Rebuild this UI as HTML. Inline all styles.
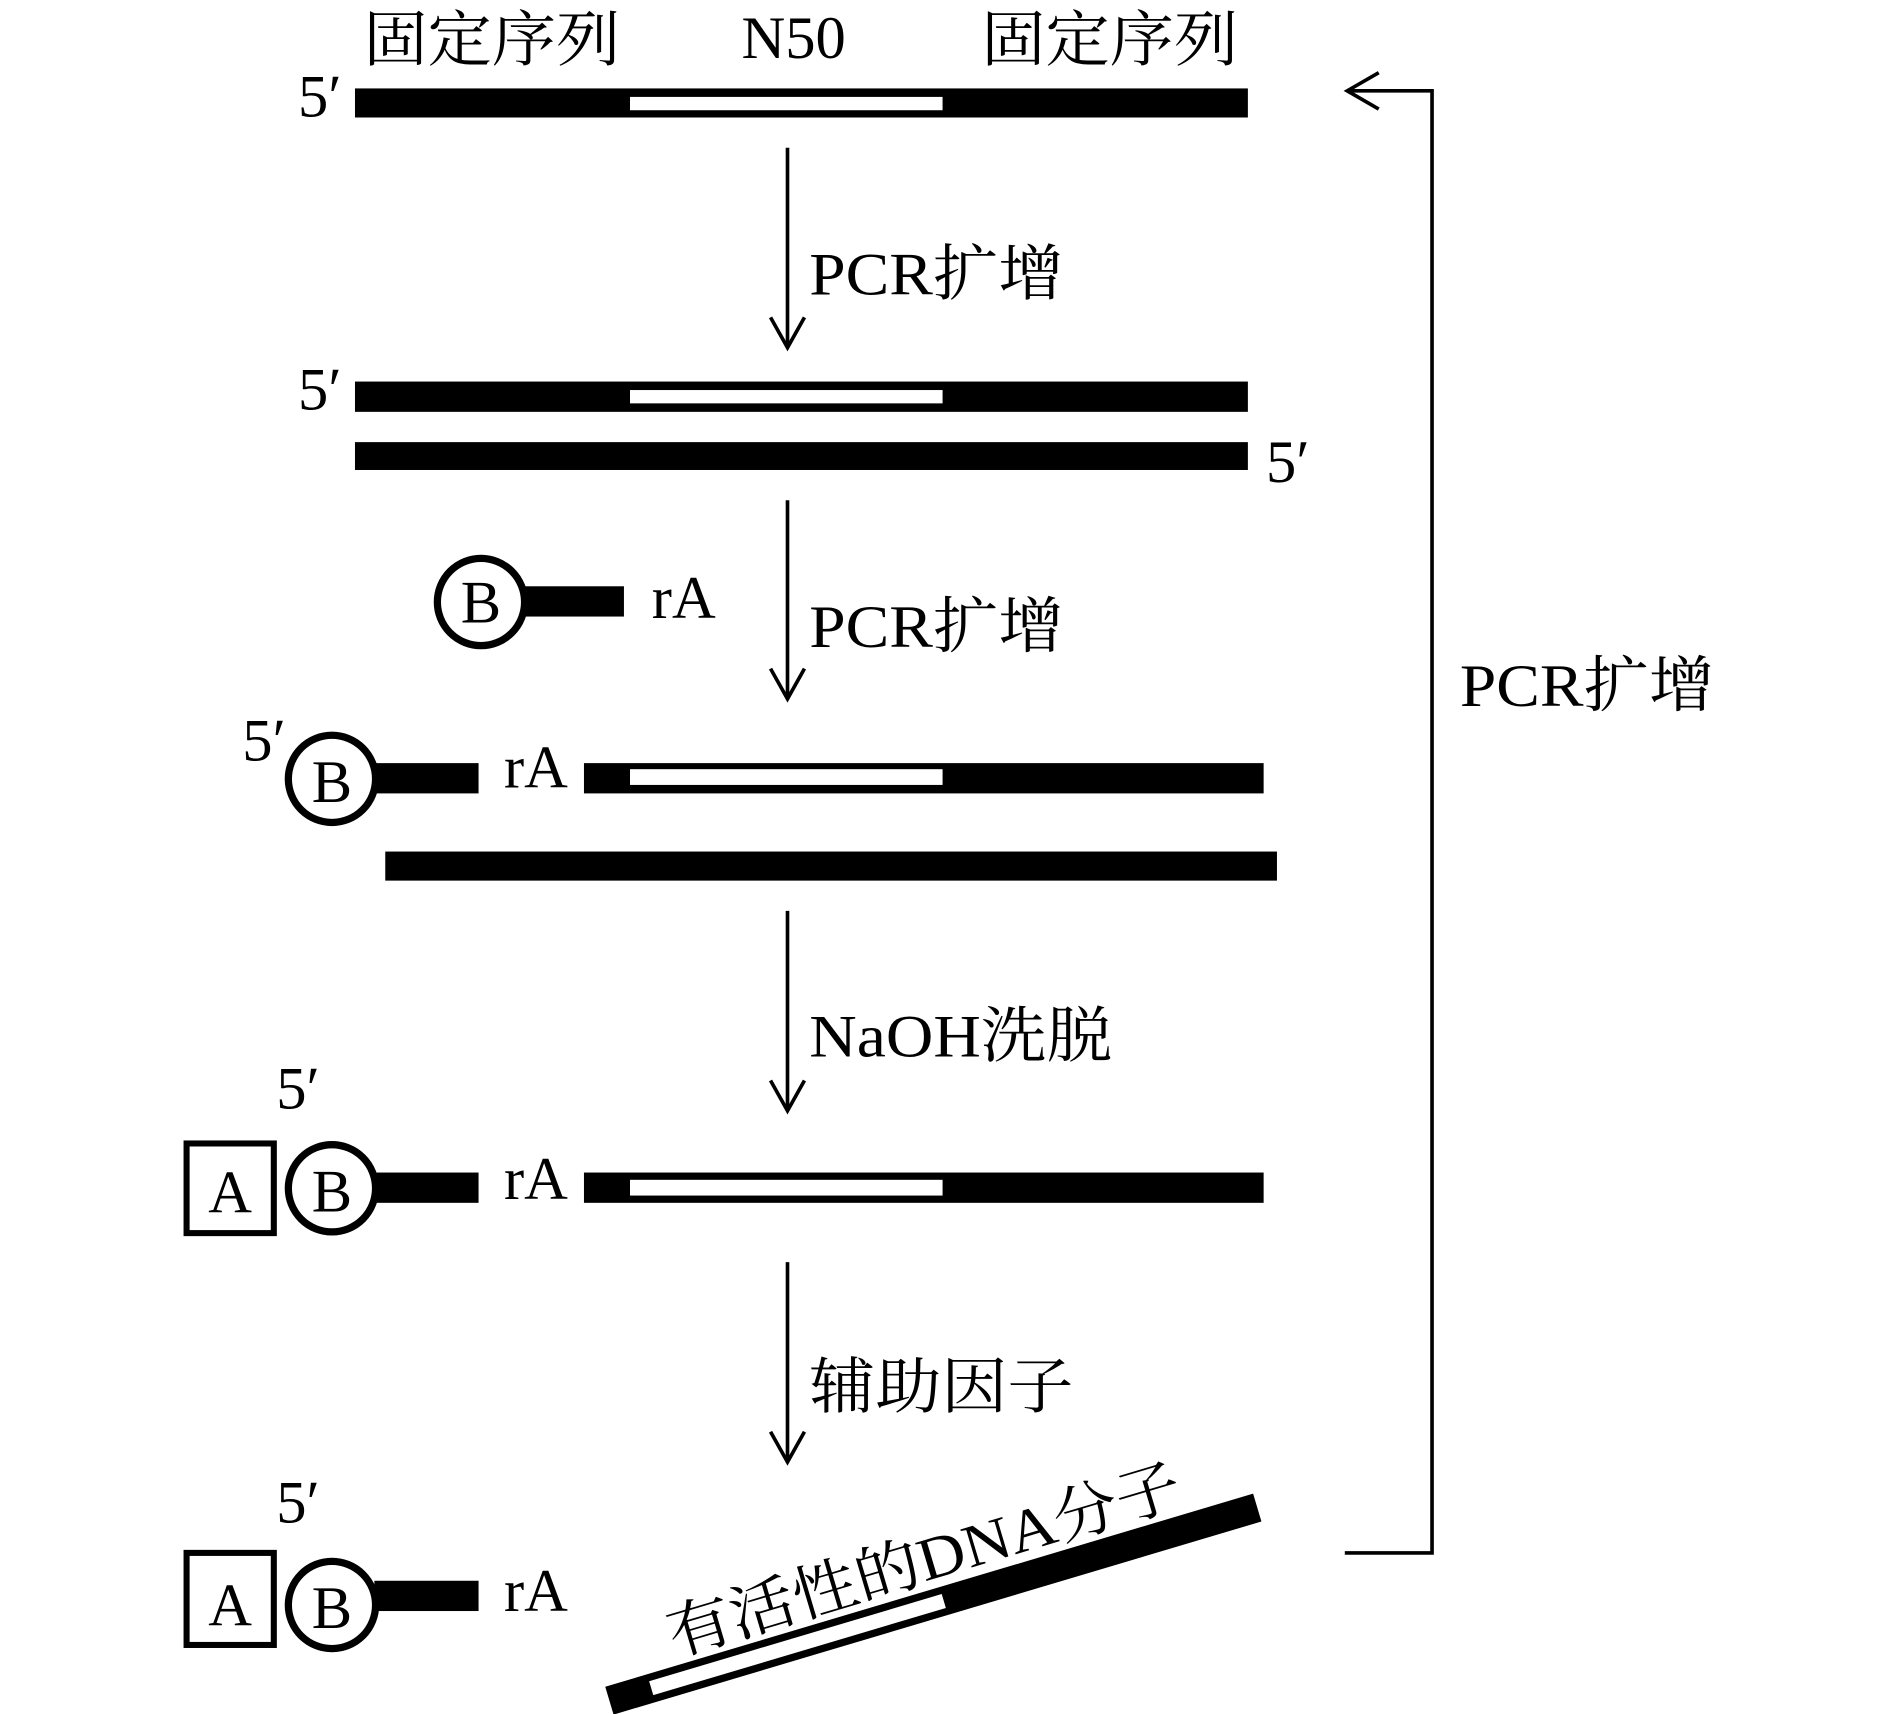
<!DOCTYPE html>
<html><head><meta charset="utf-8"><style>html,body{margin:0;padding:0;background:#fff}svg{display:block}</style></head><body>
<svg width="1890" height="1714" viewBox="0 0 1560 1415" preserveAspectRatio="none" xmlns="http://www.w3.org/2000/svg" font-family="'Liberation Serif','Noto Serif CJK SC',serif" font-size="50" fill="#000">
<!-- top labels -->
<text x="300" y="50" textLength="212" lengthAdjust="spacingAndGlyphs">固定序列</text>
<text x="612" y="48">N50</text>
<text x="810" y="50" textLength="212" lengthAdjust="spacingAndGlyphs">固定序列</text>
<!-- row1 -->
<text x="246" y="96">5′</text>
<rect x="293" y="73" width="737" height="24"/>
<rect x="520" y="80" width="258" height="11" fill="#fff"/>
<!-- arrows -->
<g stroke="#000" stroke-width="3" fill="none">
<line x1="650" y1="122" x2="650" y2="287"/><polyline points="636,262 650,287 664,262"/>
<line x1="650" y1="413" x2="650" y2="577"/><polyline points="636,552 650,577 664,552"/>
<line x1="650" y1="752" x2="650" y2="917"/><polyline points="636,892 650,917 664,892"/>
<line x1="650" y1="1042" x2="650" y2="1207"/><polyline points="636,1182 650,1207 664,1182"/>
<polyline points="1110,1282 1182,1282 1182,75 1112,75"/>
<polyline points="1138,60 1112,75 1138,90"/>
</g>
<text x="668" y="243" textLength="210" lengthAdjust="spacingAndGlyphs">PCR扩增</text>
<text x="668" y="534" textLength="210" lengthAdjust="spacingAndGlyphs">PCR扩增</text>
<text x="668" y="872" textLength="250" lengthAdjust="spacingAndGlyphs">NaOH洗脱</text>
<text x="668" y="1162" textLength="218" lengthAdjust="spacingAndGlyphs">辅助因子</text>
<text x="1205" y="583" textLength="210" lengthAdjust="spacingAndGlyphs">PCR扩增</text>
<!-- row2 -->
<text x="246" y="338">5′</text>
<rect x="293" y="315" width="737" height="25"/>
<rect x="520" y="322" width="258" height="11" fill="#fff"/>
<rect x="293" y="365" width="737" height="23"/>
<text x="1045" y="398">5′</text>
<!-- primer -->
<circle cx="397" cy="497" r="36" fill="#fff" stroke="#000" stroke-width="6"/>
<text x="397" y="514" text-anchor="middle">B</text>
<rect x="432" y="484" width="83" height="25"/>
<text x="538" y="510">rA</text>
<!-- row4 -->
<text x="200" y="628">5′</text>
<circle cx="274" cy="643" r="36" fill="#fff" stroke="#000" stroke-width="6"/>
<text x="274" y="662" text-anchor="middle">B</text>
<rect x="309" y="630" width="86" height="25"/>
<text x="416" y="650">rA</text>
<rect x="482" y="630" width="561" height="25"/>
<rect x="520" y="635" width="258" height="13" fill="#fff"/>
<rect x="318" y="703" width="736" height="24"/>
<!-- row5 -->
<text x="228" y="915">5′</text>
<rect x="154" y="944" width="72" height="74" fill="#fff" stroke="#000" stroke-width="5"/>
<text x="190" y="1001" text-anchor="middle">A</text>
<circle cx="274" cy="981" r="36" fill="#fff" stroke="#000" stroke-width="6"/>
<text x="274" y="1000" text-anchor="middle">B</text>
<rect x="309" y="968" width="86" height="25"/>
<text x="416" y="990">rA</text>
<rect x="482" y="968" width="561" height="25"/>
<rect x="520" y="974" width="258" height="13" fill="#fff"/>
<!-- row6 -->
<text x="228" y="1257">5′</text>
<rect x="154" y="1282" width="72" height="76" fill="#fff" stroke="#000" stroke-width="5"/>
<text x="190" y="1342" text-anchor="middle">A</text>
<circle cx="274" cy="1325" r="36" fill="#fff" stroke="#000" stroke-width="6"/>
<text x="274" y="1344" text-anchor="middle">B</text>
<rect x="309" y="1305" width="86" height="25"/>
<text x="416" y="1330">rA</text>
<g transform="translate(503,1404) rotate(-16.6)">
<rect x="0" y="-12" width="558" height="24"/>
<rect x="36" y="-6" width="252" height="12" fill="#fff"/>
<text x="62" y="-20" font-size="50" textLength="440" lengthAdjust="spacingAndGlyphs">有活性的DNA分子</text>
</g>
</svg>
</body></html>
